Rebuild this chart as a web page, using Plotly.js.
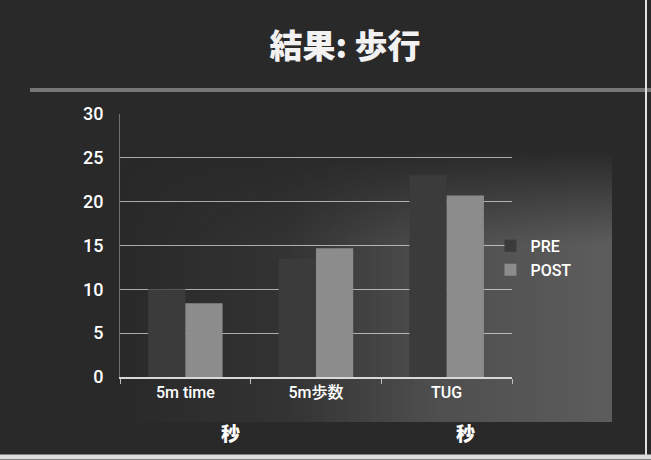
<!DOCTYPE html>
<html>
<head>
<meta charset="utf-8">
<script src="https://cdn.plot.ly/plotly-3.0.1.min.js"></script>
<style>
  html, body { margin: 0; padding: 0; }
  body {
    width: 651px; height: 460px; overflow: hidden; position: relative;
    background: #292929;
  }
  #glow {
    position: absolute; left: 110px; top: 150px; width: 502px; height: 272px;
    background: linear-gradient(to right, rgba(125,125,125,0) 0%, rgba(125,125,125,0.12) 35%, rgba(125,125,125,0.45) 65%, rgba(125,125,125,0.62) 100%);
    -webkit-mask-image: linear-gradient(to bottom, rgba(0,0,0,0) 0%, rgba(0,0,0,1) 35%);
    mask-image: linear-gradient(to bottom, rgba(0,0,0,0) 0%, rgba(0,0,0,1) 35%);
  }
  #chart { position: absolute; left: 0; top: 0; width: 651px; height: 460px; }
</style>
</head>
<body>
<div id="glow"></div>
<div id="chart"></div>
<script>
const categories = ["5m time", "5m歩数", "TUG"];
const preValues = [10, 13.5, 23];
const postValues = [8.4, 14.7, 20.7];
const seriesNames = ["PRE", "POST"];
const unitLabels = ["秒", "秒"];

const fontLatin = "Roboto, 'Noto Sans CJK JP', sans-serif";
const fontCJK = "'Noto Sans CJK JP', 'Liberation Sans', sans-serif";

const traces = [
  { type: "bar", name: seriesNames[0], x: categories, y: preValues,
    marker: { color: "#3b3b3b" } },
  { type: "bar", name: seriesNames[1], x: categories, y: postValues,
    marker: { color: "#8c8c8c" } }
];

const layout = {
  width: 651, height: 460,
  margin: { l: 120, r: 139, t: 114, b: 83 },
  paper_bgcolor: "rgba(0,0,0,0)",
  plot_bgcolor: "rgba(0,0,0,0)",
  barmode: "group",
  bargap: 0.43,
  bargroupgap: 0,
  title: {
    text: "結果: 歩行",
    font: { family: fontCJK, size: 33, color: "#f2f2f2", weight: 900 },
    x: 345 / 651, xanchor: "center", xref: "container",
    y: 1 - 46 / 460, yanchor: "middle", yref: "container"
  },
  xaxis: {
    type: "category",
    tickfont: { family: fontLatin, size: 16, color: "#ffffff", weight: 500 },
    showgrid: false,
    showline: true, linecolor: "#d8d8d8", linewidth: 1.5,
    ticks: "outside", tickson: "boundaries", ticklen: 5, tickcolor: "#bdbdbd",
    zeroline: false
  },
  yaxis: {
    range: [0, 30],
    dtick: 5,
    tickfont: { family: fontLatin, size: 18, color: "#ffffff", weight: 500 },
    ticklabelstandoff: 12,
    showgrid: true, gridcolor: "rgba(255,255,255,0.6)", gridwidth: 1,
    showline: true, linecolor: "rgba(200,200,200,0.45)", linewidth: 1,
    zeroline: false, ticks: ""
  },
  legend: {
    x: 0.945, xanchor: "left", y: 0.563, yanchor: "top",
    font: { family: fontLatin, size: 16, color: "#ffffff", weight: 500 },
    bgcolor: "rgba(0,0,0,0)", tracegroupgap: 2, itemwidth: 30
  },
  shapes: [
    { type: "line", xref: "paper", yref: "paper",
      x0: (30 - 120) / 392, x1: (651 - 120) / 392,
      y0: (377 - 90) / 263, y1: (377 - 90) / 263,
      line: { color: "#767676", width: 4 }, layer: "below" },
    { type: "line", xref: "paper", yref: "paper",
      x0: (646 - 120) / 392, x1: (646 - 120) / 392,
      y0: (377 - 0) / 263, y1: (377 - 458) / 263,
      line: { color: "#e0e0e0", width: 2 } },
    { type: "line", xref: "paper", yref: "paper",
      x0: (0 - 120) / 392, x1: (651 - 120) / 392,
      y0: (377 - 457) / 263, y1: (377 - 457) / 263,
      line: { color: "#dcdcdc", width: 5 } }
  ],
  annotations: [
    { text: unitLabels[0], xref: "paper", yref: "paper",
      x: (230 - 120) / 392, y: (377 - 432) / 263, showarrow: false,
      xanchor: "center", yanchor: "middle",
      font: { family: fontCJK, size: 19, color: "#ffffff", weight: 900 } },
    { text: unitLabels[1], xref: "paper", yref: "paper",
      x: (465 - 120) / 392, y: (377 - 432) / 263, showarrow: false,
      xanchor: "center", yanchor: "middle",
      font: { family: fontCJK, size: 19, color: "#ffffff", weight: 900 } }
  ]
};

Plotly.newPlot("chart", traces, layout, { displayModeBar: false, staticPlot: true });
</script>
</body>
</html>
